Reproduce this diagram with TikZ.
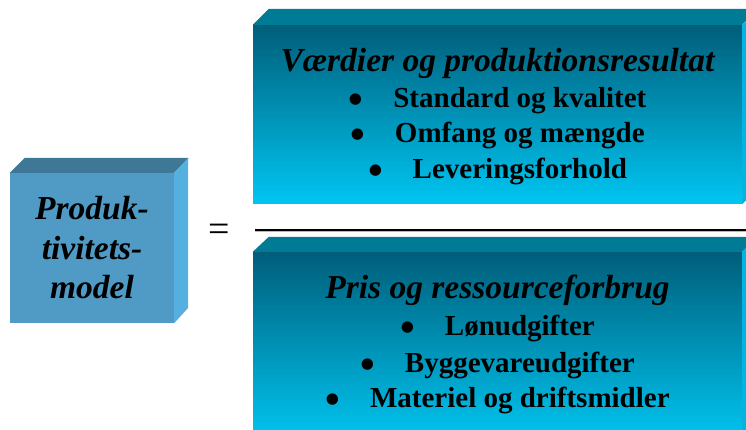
\documentclass[tikz,border=0pt]{standalone}
\usepackage{xcolor}
\usepackage{fontspec}
\setmainfont{Liberation Serif}
\usetikzlibrary{positioning}

\definecolor{modelfront}{HTML}{4F9BC5}
\definecolor{modeltop}{HTML}{3E7896}
\definecolor{modelside}{HTML}{55B0E0}
\definecolor{paneldark}{HTML}{005E7A}
\definecolor{panellight}{HTML}{00C6F2}
\definecolor{paneltop}{HTML}{007B96}
\definecolor{panelside}{HTML}{00B4E4}

\newcommand{\prik}{{\fontsize{42}{42}\selectfont\raisebox{-6pt}[0pt][0pt]{•}}\hspace{30pt}}

\tikzset{
  modelbox/.style={fill=modelfront, minimum width=164pt, minimum height=150pt,
    inner sep=0pt, align=center,
    font=\fontsize{33.5}{39.5}\selectfont\bfseries\itshape},
  panel/.style={top color=paneldark, bottom color=panellight, draw=none,
    minimum width=489pt, inner sep=0pt},
  titel/.style={anchor=base, inner sep=0pt,
    font=\fontsize{33.5}{40}\selectfont\bfseries\itshape},
  punkt/.style={anchor=base, inner sep=0pt,
    font=\fontsize{29}{36}\selectfont\bfseries},
  bar/.style={line width=2pt, black}
}

\begin{document}
\begin{tikzpicture}[x=1pt,y=-1pt]
    \useasboundingbox (0,0) rectangle (746,430);
    \clip (0,0) rectangle (746,430);

    % Produktivitetsmodel
    \node[modelbox] (model) at (92,248) {Produk-\\tivitets-\\model};
    \fill[modeltop] (model.north west) -- ++(15,-15) -- ++(164,0)
        -- (model.north east) -- cycle;
    \fill[modelside] (model.north east) -- ++(14,-15) -- ++(0,150)
        -- (model.south east) -- cycle;

    \node[font=\fontsize{38}{38}\selectfont, anchor=base, inner sep=0pt]
        (lig) at (219.5,241.5) {=};

    % Vaerdier (taeller)
    \node[panel, minimum height=179pt] (vaerdi) at (497.5,114.5) {};
    \fill[paneltop] (vaerdi.north west) -- ++(16,-16) -- ++(489,0)
        -- (vaerdi.north east) -- cycle;
    \fill[panelside] (vaerdi.north east) -- ++(16,-16) -- ++(0,179)
        -- (vaerdi.south east) -- cycle;
    \node[titel] (vtitel) at (497.5,72) {Værdier og produktionsresultat};
    \foreach \y/\txt in {108/Standard og kvalitet, 143/Omfang og mængde,
                         179/Leveringsforhold}
        \node[punkt] (v\y) at (497.5,\y) {\prik\txt};

    % broekstreg
    \draw[gray!55, line width=1.2pt] (255,231.6) -- (746,231.6);
    \draw[bar] (255,230) -- (746,230);

    % Pris (naevner)
    \node[panel, minimum height=190pt] (pris) at (497.5,347) {};
    \fill[paneltop] (pris.north west) -- ++(16,-15) -- ++(489,0)
        -- (pris.north east) -- cycle;
    \fill[panelside] (pris.north east) -- ++(16,-15) -- ++(0,190)
        -- (pris.south east) -- cycle;
    \node[titel] (ptitel) at (497.5,298) {Pris og ressourceforbrug};
    \foreach \y/\txt in {335/Lønudgifter, 372/Byggevareudgifter,
                         407/Materiel og driftsmidler}
        \node[punkt] (p\y) at (497.5,\y) {\prik\txt};
\end{tikzpicture}
\end{document}
